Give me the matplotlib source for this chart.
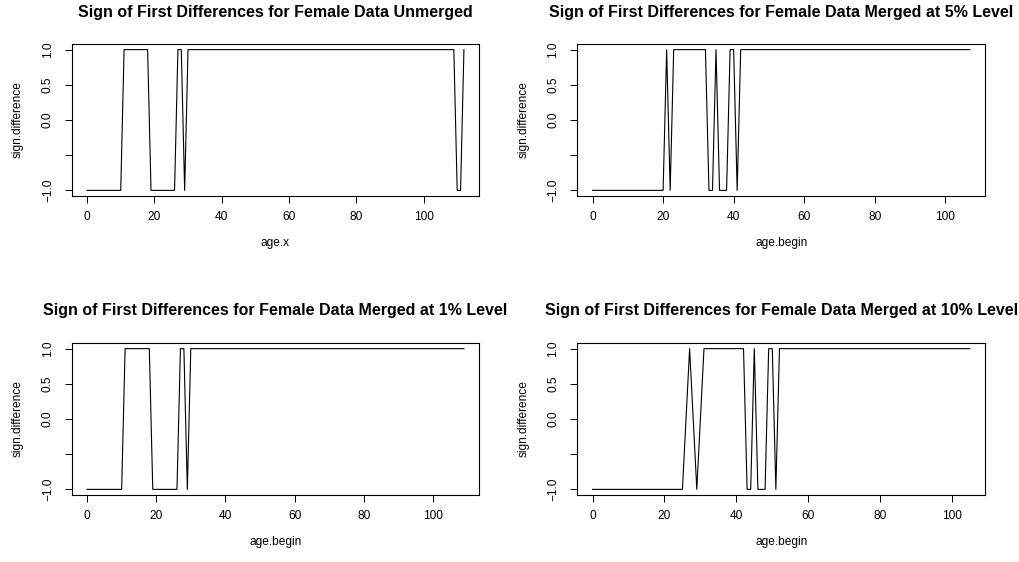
import numpy as np
import matplotlib
matplotlib.use('Agg')
import matplotlib.pyplot as plt

plt.rcParams['font.family'] = ['Liberation Sans', 'DejaVu Sans']

# Vertices of the sign series (age, sign of first difference) for each panel
unmerged_age = [0, 10, 11, 18, 19, 26, 27, 28, 29, 30, 109, 110, 111, 112]
unmerged_sign = [-1, -1, 1, 1, -1, -1, 1, 1, -1, 1, 1, -1, -1, 1]

merged5_age = [0, 20, 21, 22, 23, 32, 33, 34, 35, 36, 38, 39, 40, 41, 42, 107]
merged5_sign = [-1, -1, 1, -1, 1, 1, -1, -1, 1, -1, -1, 1, 1, -1, 1, 1]

merged1_age = [0, 10, 11, 18, 19, 26, 27, 28, 29, 30, 109]
merged1_sign = [-1, -1, 1, 1, -1, -1, 1, 1, -1, 1, 1]

merged10_age = [0, 25, 27, 29, 31, 42, 43, 44, 45, 46, 48, 49, 50, 51, 52, 105]
merged10_sign = [-1, -1, 1, -1, 1, 1, -1, -1, 1, -1, -1, 1, 1, -1, 1, 1]

titles = ['Sign of First Differences for Female Data Unmerged',
          'Sign of First Differences for Female Data Merged at 5% Level',
          'Sign of First Differences for Female Data Merged at 1% Level',
          'Sign of First Differences for Female Data Merged at 10% Level']
xlabels = ['age.x', 'age.begin', 'age.begin', 'age.begin']
series = [(unmerged_age, unmerged_sign), (merged5_age, merged5_sign),
          (merged1_age, merged1_sign), (merged10_age, merged10_sign)]

y_ticks = [-1.0, -0.5, 0.0, 0.5, 1.0]
y_ticklabels = ['\u22121.0', '', '0.0', '0.5', '1.0']
x_ticks = [0, 20, 40, 60, 80, 100]

W, H = 1020, 562
fig = plt.figure(figsize=(W / 100, H / 100), dpi=100)

# panel boxes in pixels: left, top, width, height
boxes = [(72, 44, 407, 152), (577.5, 44, 407.5, 152),
         (72, 343, 407, 152), (577.5, 343, 407.5, 152)]

fs = 8.6
for (left, top, w, h), (ages, signs), title, xl in zip(boxes, series, titles, xlabels):
    ax = fig.add_axes([left / W, 1 - (top + h) / H, w / W, h / H])
    ax.plot(ages, signs, color='black', lw=0.8)
    xmax = max(ages)
    ax.set_xlim(-0.04 * xmax, 1.04 * xmax)
    ax.set_ylim(-1.08, 1.08)
    ax.set_xticks(x_ticks)
    ax.set_xticklabels([str(t) for t in x_ticks], fontsize=fs)
    ax.set_yticks(y_ticks)
    ax.set_yticklabels(y_ticklabels, fontsize=fs, rotation=90, va='center')
    ax.tick_params(direction='out', length=5, width=0.7, color='black')
    ax.tick_params(axis='x', pad=6)
    ax.tick_params(axis='y', pad=8)
    for s in ax.spines.values():
        s.set_linewidth(0.8)
    ax.set_xlabel(xl, fontsize=fs)
    ax.xaxis.set_label_coords(0.5, -47 / h)
    ax.xaxis.label.set_va('center')
    ax.set_ylabel('sign.difference', fontsize=fs)
    ax.yaxis.set_label_coords(-54 / w, 0.5)
    ax.yaxis.label.set_va('center')
    ax.text(0.5, 1 + 32 / h, title, transform=ax.transAxes, ha='center',
            va='center', fontsize=11.5, fontweight='bold')

fig.savefig('out.png', dpi=100)
